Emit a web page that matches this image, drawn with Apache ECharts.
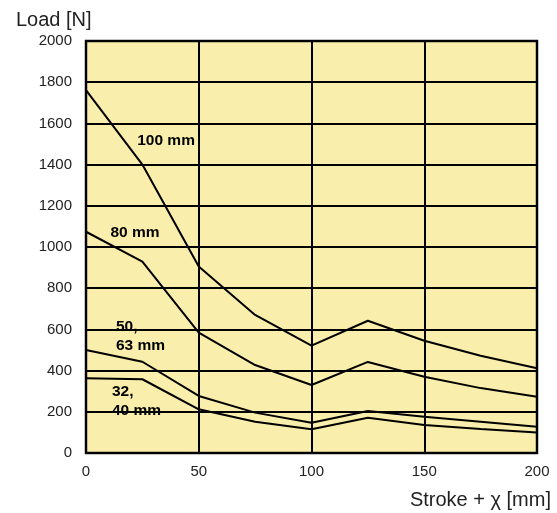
<!DOCTYPE html>
<html>
<head>
<meta charset="utf-8">
<script src="https://cdn.jsdelivr.net/npm/echarts@6/dist/echarts.min.js"></script>
<style>html,body{margin:0;padding:0;background:#fff}#c{width:557px;height:513px}</style>
</head>
<body>
<div id="c"></div>
<script>
const strokes = [0, 25, 50, 75, 100, 125, 150, 175, 200];
const load100 = [1762, 1400, 905, 670, 521, 642, 545, 472, 411];
const load80 = [1074, 929, 584, 427, 330, 442, 370, 315, 273];
const load50_63 = [500, 443, 277, 196, 147, 204, 176, 152, 128];
const load32_40 = [363, 358, 212, 152, 115, 171, 136, 117, 99];
const xTicks = [0, 50, 100, 150, 200];
const yTicks = [0, 200, 400, 600, 800, 1000, 1200, 1400, 1600, 1800, 2000];
const curveNames = ['100 mm', '80 mm', '50,\n63 mm', '32,\n40 mm'];
// label anchors in data coordinates [stroke, load]
const labelAnchors = [[35.5, 1515], [21.7, 1068], [13.3, 568], [11.5, 252]];
const labelAlign = ['center', 'center', 'left', 'left'];

const chart = echarts.init(document.getElementById('c'));
const pairs = arr => strokes.map((s, i) => [s, arr[i]]);
const lineSeries = [load100, load80, load50_63, load32_40].map(arr => ({
  type: 'line', data: pairs(arr), symbol: 'none', silent: true,
  lineStyle: { color: '#000', width: 2 }, z: 3
}));
const labelSeries = curveNames.map((n, i) => ({
  type: 'scatter', symbolSize: 0, silent: true, z: 5,
  itemStyle: { opacity: 1, color: '#000' },
  data: [[labelAnchors[i][0], labelAnchors[i][1]]],
  label: {
    show: true, position: 'inside', formatter: n, align: labelAlign[i],
    color: '#000', opacity: 1, fontWeight: 'bold', fontSize: 15.5, lineHeight: 19,
    fontFamily: 'Liberation Sans, Arial, sans-serif'
  }
}));

chart.setOption({
  animation: false,
  backgroundColor: '#fff',
  textStyle: { fontFamily: 'Liberation Sans, Arial, sans-serif' },
  title: [
    { text: 'Load [N]', left: 11, top: 5, textStyle: { fontSize: 20, fontWeight: 'normal', color: '#222' } },
    { text: 'Stroke + χ [mm]', right: 1, top: 485, textStyle: { fontSize: 20, fontWeight: 'normal', color: '#222' } }
  ],
  grid: {
    left: 86, top: 41, width: 451, height: 412, show: true,
    backgroundColor: '#f9eeab', borderColor: '#111', borderWidth: 2.5
  },
  xAxis: {
    type: 'value', min: xTicks[0], max: xTicks[xTicks.length - 1], interval: 50,
    axisLine: { show: false }, axisTick: { show: false },
    splitLine: { show: true, lineStyle: { color: '#000', width: 2 } },
    axisLabel: { fontSize: 15, color: '#222', margin: 11, formatter: v => String(v) }
  },
  yAxis: {
    type: 'value', min: yTicks[0], max: yTicks[yTicks.length - 1], interval: 200,
    axisLine: { show: false }, axisTick: { show: false },
    splitLine: { show: true, lineStyle: { color: '#000', width: 2 } },
    axisLabel: { fontSize: 15, color: '#222', margin: 14, formatter: v => String(v) }
  },
  series: lineSeries.concat(labelSeries)
});
</script>
</body>
</html>
